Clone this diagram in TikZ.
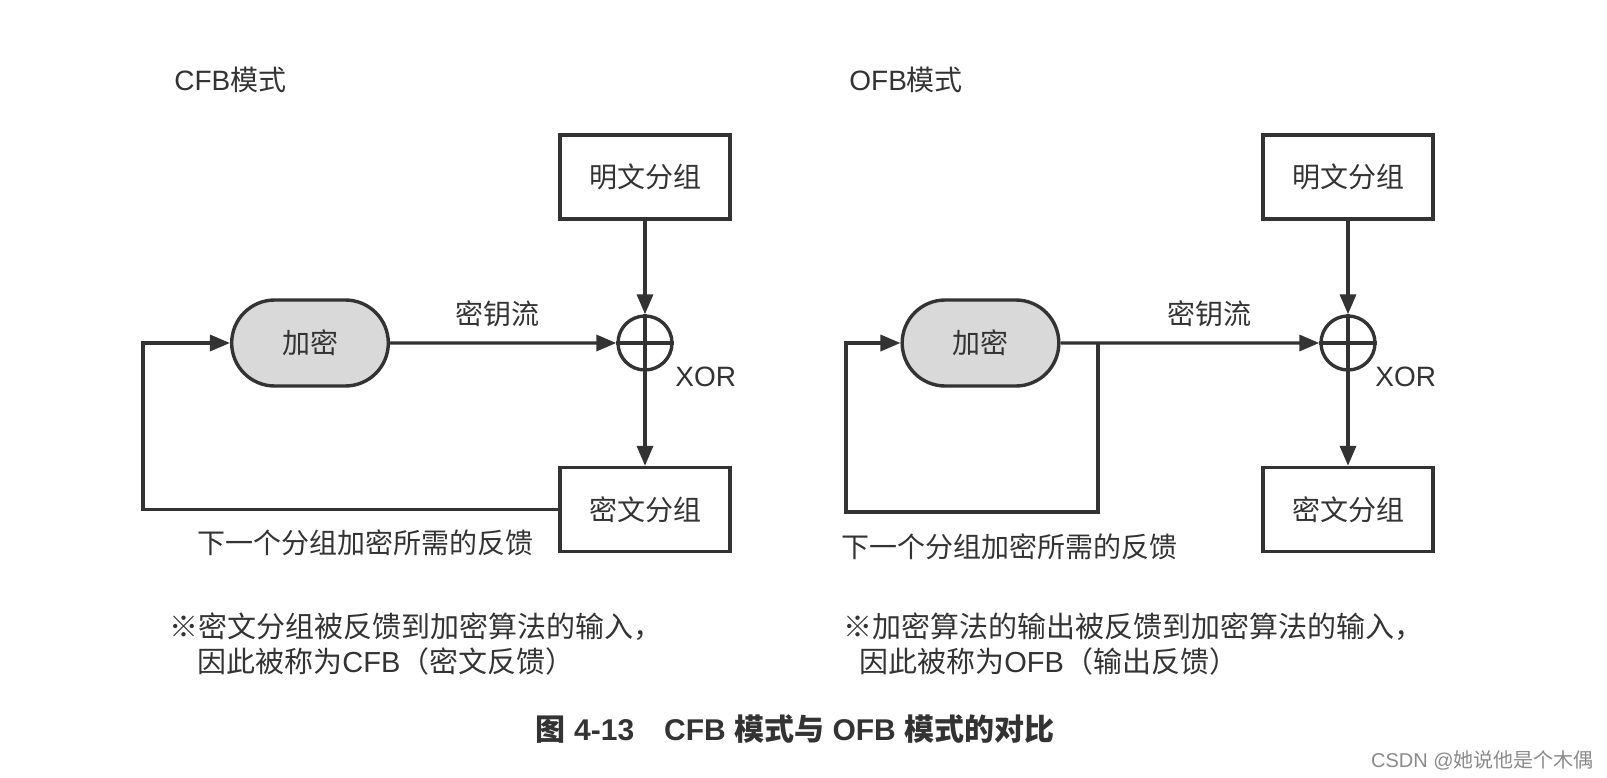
\documentclass[tikz,border=0pt]{standalone}
\usepackage{fontspec}
\setmainfont{Liberation Sans}
\newfontfamily\cjk{Noto Sans CJK SC}
\usetikzlibrary{arrows.meta,shapes.misc}

\definecolor{inkgray}{HTML}{333333}
\definecolor{encgray}{HTML}{D9D9D9}
\definecolor{markgray}{HTML}{8A8A8A}

\tikzset{
  blockbox/.style={draw=inkgray, line width=1.7pt, minimum width=85pt,
    minimum height=42pt, text=inkgray, font=\fontsize{14}{17}\selectfont\cjk},
  encnode/.style={rounded rectangle, draw=inkgray, fill=encgray, line width=1.7pt,
    minimum width=85pt, minimum height=43pt, text=inkgray,
    font=\fontsize{14}{17}\selectfont\cjk},
  xornode/.style={circle, draw=inkgray, line width=1.7pt, minimum size=27pt, inner sep=0pt},
  wire/.style={draw=inkgray, line width=1.7pt},
  flow/.style={wire, -{Triangle[length=10pt,width=8pt]}},
  lbl/.style={inner sep=0pt, text=inkgray, font=\fontsize{14}{17}\selectfont},
  notelbl/.style={lbl, anchor=west, font=\fontsize{14.5}{17}\selectfont}
}

\begin{document}
\begin{tikzpicture}[x=0.5pt, y=-0.5pt]
  \useasboundingbox (0,0) rectangle (1607,777);

  % CFB side
  \node[lbl, anchor=west] (titleL) at (174,80) {CFB{\cjk 模式}};
  \node[blockbox] (plainL) at (645,177) {明文分组};
  \node[xornode] (xorL) at (645,343) {};
  \node[encnode] (encL) at (310,343) {加密};
  \node[blockbox] (cipherL) at (645,509.5) {密文分组};
  \node[lbl] (keyL) at (497,314) {\cjk 密钥流};
  \node[lbl, anchor=west] (xlblL) at (675,377) {XOR};
  \node[lbl, anchor=west] (fbL) at (197,543) {\cjk 下一个分组加密所需的反馈};
  \node[notelbl] (noteL1) at (169,627) {\cjk ※密文分组被反馈到加密算法的输入，};
  \node[notelbl] (noteL2) at (197,661) {{\cjk 因此被称为}CFB{\cjk （密文反馈）}};
  \coordinate (cnrL) at (143,509.5);

  \draw[flow] (plainL) -- (xorL.north);
  \draw[wire] (xorL.north) -- (xorL.south) (xorL.west) -- (xorL.east);
  \draw[flow] (xorL.south) -- (cipherL);
  \draw[flow] (encL) -- (xorL.west);
  \draw[flow] (cipherL.west) -- (cnrL) |- (encL.west);

  % OFB side
  \node[lbl, anchor=west] (titleR) at (849,80) {OFB{\cjk 模式}};
  \node[blockbox] (plainR) at (1348,177) {明文分组};
  \node[xornode] (xorR) at (1348,343) {};
  \node[encnode] (encR) at (980.5,343) {加密};
  \node[blockbox] (cipherR) at (1348,509.5) {密文分组};
  \node[lbl] (keyR) at (1209,314) {\cjk 密钥流};
  \node[lbl, anchor=west] (xlblR) at (1375,377) {XOR};
  \node[lbl, anchor=west] (fbR) at (841,547) {\cjk 下一个分组加密所需的反馈};
  \node[notelbl] (noteR1) at (843,627) {\cjk ※加密算法的输出被反馈到加密算法的输入，};
  \node[notelbl] (noteR2) at (859,661) {{\cjk 因此被称为}OFB{\cjk （输出反馈）}};
  \coordinate (brR) at (1098,343);
  \coordinate (cnrR1) at (1098,512);
  \coordinate (cnrR2) at (846,512);

  \draw[flow] (plainR) -- (xorR.north);
  \draw[wire] (xorR.north) -- (xorR.south) (xorR.west) -- (xorR.east);
  \draw[flow] (xorR.south) -- (cipherR);
  \draw[flow] (encR) -- (xorR.west);
  \draw[flow] (brR) -- (cnrR1) -- (cnrR2) |- (encR.west);

  % caption and mark
  \node[lbl, font=\fontsize{15}{18}\selectfont\bfseries] (caption) at (795,729)
    {{\cjk\bfseries 图} 4-13\hspace{1em}CFB {\cjk\bfseries 模式与} OFB {\cjk\bfseries 模式的对比}};
  \node[inner sep=0pt, anchor=east, text=markgray, font=\fontsize{10}{12}\selectfont] (mark)
    at (1594,760) {CSDN @{\cjk 她说他是个木偶}};
\end{tikzpicture}
\end{document}
